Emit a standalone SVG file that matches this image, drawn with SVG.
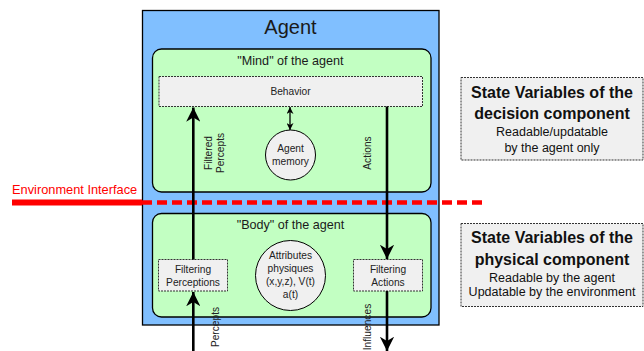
<svg xmlns="http://www.w3.org/2000/svg" width="644" height="351" viewBox="0 0 644 351">
<defs>
<style>
text{font-family:"Liberation Sans",Arial,sans-serif;fill:#1a1a1a}
.g{fill:#c2ffc2;stroke:#000;stroke-width:1.3}
.d{fill:#f0f0f0;stroke:#333;stroke-width:1;stroke-dasharray:2,1}
.c{fill:#f0f0f0;stroke:#000;stroke-width:1}
.ln{stroke:#000;stroke-width:2.6;fill:none}
.s{font-size:10.2px;text-anchor:middle;fill:#222}
.b{font-size:16px;font-weight:bold;text-anchor:middle;fill:#111}
.r{font-size:12.5px;text-anchor:middle;fill:#111}
</style>
<marker id="ah" viewBox="0 0 10 10" refX="10" refY="5" markerWidth="5.5" markerHeight="5.5" orient="auto" markerUnits="strokeWidth">
<path d="M0,0 L10,5 L0,10 L3,5 Z" fill="#000"/>
</marker>
<marker id="sa" viewBox="0 0 10 10" refX="10" refY="5" markerWidth="7" markerHeight="7" orient="auto-start-reverse" markerUnits="userSpaceOnUse">
<path d="M0,0 L10,5 L0,10 L3,5 Z" fill="#000"/>
</marker>
</defs>
<rect width="644" height="351" fill="#fff"/>
<g id="agent">
<rect x="142.5" y="10.5" width="296.5" height="314.5" fill="#80bfff" stroke="#000" stroke-width="1.3"/>
<text x="290.5" y="34" font-size="20" text-anchor="middle">Agent</text>
</g>
<g id="mind">
<rect class="g" x="152.5" y="49" width="278.5" height="143" rx="9"/>
<text x="290.5" y="65" font-size="12.6" text-anchor="middle">"Mind" of the agent</text>
</g>
<g id="body">
<rect class="g" x="152.5" y="213.5" width="278.5" height="103.5" rx="9"/>
<text x="290.5" y="229" font-size="12.6" text-anchor="middle">"Body" of the agent</text>
</g>
<g id="env">
<line x1="12" y1="202.5" x2="142" y2="202.5" stroke="#f00" stroke-width="6"/>
<line x1="142" y1="202.5" x2="483" y2="202.5" stroke="#f00" stroke-width="4.5" stroke-dasharray="10,5"/>
<text x="12" y="194" font-size="12.8" style="fill:#f00">Environment Interface</text>
</g>
<g id="behavior">
<rect class="d" x="159" y="76.5" width="263.5" height="30"/>
<text class="s" x="290.5" y="95">Behavior</text>
</g>
<g id="memory">
<circle class="c" cx="290.5" cy="155" r="25"/>
<text class="s" x="290.5" y="152">Agent</text>
<text class="s" x="290.5" y="164.5">memory</text>
</g>
<g id="filtering-perceptions">
<rect class="d" x="158.5" y="259.5" width="69" height="31.5"/>
<text class="s" x="193" y="273">Filtering</text>
<text class="s" x="193" y="285.5">Perceptions</text>
</g>
<g id="filtering-actions">
<rect class="d" x="353.5" y="259.5" width="69" height="31.5"/>
<text class="s" x="388" y="273">Filtering</text>
<text class="s" x="388" y="285.5">Actions</text>
</g>
<g id="attributes">
<circle class="c" cx="290.5" cy="275.5" r="35"/>
<text class="s" x="290.5" y="259">Attributes</text>
<text class="s" x="290.5" y="272">physiques</text>
<text class="s" x="290.5" y="285">(x,y,z), V(t)</text>
<text class="s" x="290.5" y="297.5">a(t)</text>
</g>
<g id="decision-state">
<rect class="d" x="461" y="77.5" width="182" height="82.5"/>
<text class="b" x="552" y="97.5">State Variables of the</text>
<text class="b" x="552" y="119">decision component</text>
<text class="r" x="552" y="136">Readable/updatable</text>
<text class="r" x="552" y="151.5">by the agent only</text>
</g>
<g id="physical-state">
<rect class="d" x="461" y="223.5" width="182" height="83"/>
<text class="b" x="552" y="243">State Variables of the</text>
<text class="b" x="552" y="264.5">physical component</text>
<text class="r" x="552" y="281.5">Readable by the agent</text>
<text class="r" x="552" y="296">Updatable by the environment</text>
</g>
<g id="connectors">
<line class="ln" x1="193.3" y1="259.5" x2="193.3" y2="107.5" marker-end="url(#ah)"/>
<line class="ln" x1="193.3" y1="351" x2="193.3" y2="292" marker-end="url(#ah)"/>
<line class="ln" x1="387" y1="106.5" x2="387" y2="259" marker-end="url(#ah)"/>
<line class="ln" x1="387" y1="291" x2="387" y2="351" marker-end="url(#ah)"/>
<line x1="290" y1="107" x2="290" y2="130" stroke="#000" stroke-width="1.3" marker-start="url(#sa)" marker-end="url(#sa)"/>
<text class="s" transform="translate(212,153) rotate(-90)">Filtered</text>
<text class="s" transform="translate(223.5,153) rotate(-90)">Percepts</text>
<text class="s" transform="translate(371,153) rotate(-90)">Actions</text>
<text class="s" transform="translate(218.5,327) rotate(-90)">Percepts</text>
<text class="s" transform="translate(370.5,327) rotate(-90)">Influences</text>
</g>
</svg>
